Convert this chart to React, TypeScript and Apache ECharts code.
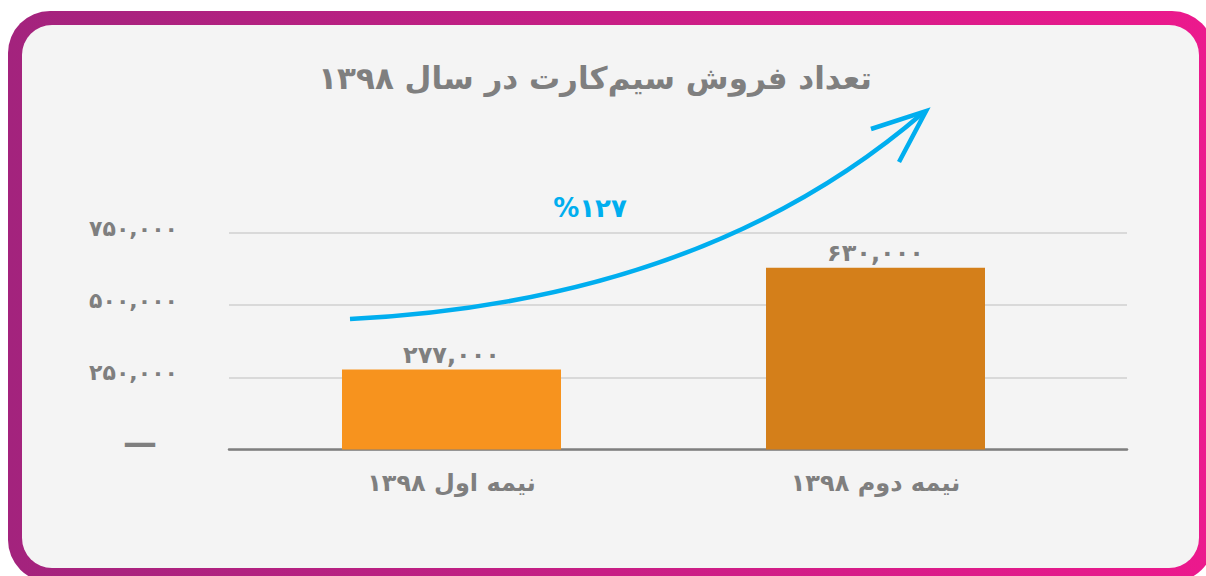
import React, { useEffect, useRef } from "react";
import * as echarts from "echarts";

const categories = ["نیمه اول ۱۳۹۸", "نیمه دوم ۱۳۹۸"];
const sales = [277000, 630000];
const barColors = ["#F7931E", "#D47F1A"];
const titleText = "تعداد فروش سیم‌کارت در سال ۱۳۹۸";
const yMin = 0;
const yMax = 750000;
const yInterval = 250000;

const toFa = (s: string) => s.replace(/\d/g, (d) => "۰۱۲۳۴۵۶۷۸۹"[+d]);
const fmt = (n: number) => toFa(Math.round(n).toLocaleString("en-US"));
const growth = Math.round(((sales[1] - sales[0]) / sales[0]) * 100);
const growthText = "%" + toFa(String(growth));

const FONT = "'DejaVu Sans', sans-serif";
const GRAY = "#7F7F7F";
const BLUE = "#00AEEF";

export default function App() {
  const ref = useRef<HTMLDivElement>(null);
  useEffect(() => {
    if (!ref.current) return;
    const chart = echarts.init(ref.current, null, { renderer: "svg" });
    const option: any = {
      animation: false,
      backgroundColor: "#ffffff",
      grid: [
        { left: 229, right: 79, top: 233, bottom: 126.5 },
        { left: 239.5, right: 118.5, top: 233, bottom: 126.5 },
      ],
      xAxis: [
        {
          type: "category",
          gridIndex: 0,
          data: categories,
          axisLine: { lineStyle: { color: GRAY, width: 2.5 } },
          axisTick: { show: false },
          axisLabel: { show: false },
        },
        {
          type: "category",
          gridIndex: 1,
          data: categories,
          axisLine: { show: false },
          axisTick: { show: false },
          axisLabel: {
            color: GRAY,
            fontSize: 24,
            fontWeight: "bold",
            fontFamily: FONT,
            margin: 21,
          },
        },
      ],
      yAxis: [
        {
          type: "value",
          gridIndex: 0,
          min: yMin,
          max: yMax,
          interval: yInterval,
          splitLine: { lineStyle: { color: "#D9D9D9", width: 2 } },
          axisLine: { show: false },
          axisTick: { show: false },
          axisLabel: {
            margin: 51,
            color: GRAY,
            fontSize: 22,
            fontWeight: "bold",
            fontFamily: FONT,
            padding: [0, 0, 10, 0],
            formatter: (v: number) => (v === 0 ? "{z|—}" : fmt(v)),
            rich: {
              z: { fontSize: 34, color: GRAY, fontFamily: FONT, padding: [0, 21, 6, 0] },
            },
          },
        },
        {
          type: "value",
          gridIndex: 1,
          min: yMin,
          max: yMax,
          interval: yInterval,
          show: false,
          splitLine: { show: false },
        },
      ],
      series: [
        {
          type: "bar",
          xAxisIndex: 1,
          yAxisIndex: 1,
          barWidth: 219,
          data: sales.map((v, i) => ({ value: v, itemStyle: { color: barColors[i] } })),
          label: {
            show: true,
            position: "top",
            distance: 3,
            formatter: (p: any) => fmt(p.value),
            color: GRAY,
            fontSize: 24,
            fontWeight: "bold",
            fontFamily: FONT,
          },
        },
      ],
      graphic: [
        {
          type: "rect",
          z: -20,
          silent: true,
          shape: { x: 8, y: 11, width: 1206, height: 571, r: 42 },
          style: {
            fill: {
              type: "linear",
              x: 0,
              y: 0,
              x2: 1,
              y2: 0,
              colorStops: [
                { offset: 0, color: "#A3237D" },
                { offset: 1, color: "#EC198D" },
              ],
            },
          },
        },
        {
          type: "rect",
          z: -19,
          silent: true,
          shape: { x: 22, y: 25, width: 1177, height: 543, r: 30 },
          style: { fill: "#F4F4F4" },
        },
        {
          type: "text",
          z: 10,
          x: 595,
          y: 78,
          style: {
            text: titleText,
            align: "center",
            verticalAlign: "middle",
            fill: GRAY,
            font: `bold 31px ${FONT}`,
          },
        },
        {
          type: "bezierCurve",
          z: 10,
          shape: { x1: 350, y1: 319, cpx1: 587, cpy1: 307, cpx2: 778, cpy2: 238, x2: 924, y2: 112 },
          style: { stroke: BLUE, lineWidth: 4.5, fill: null },
        },
        {
          type: "polyline",
          z: 10,
          shape: { points: [[871, 129], [926, 111], [899, 162]] },
          style: { stroke: BLUE, lineWidth: 4.5, fill: null, lineJoin: "miter" },
        },
        {
          type: "text",
          z: 10,
          x: 590,
          y: 208,
          style: {
            text: growthText,
            align: "center",
            verticalAlign: "middle",
            fill: BLUE,
            font: `bold 26px ${FONT}`,
          },
        },
      ],
    };
    chart.setOption(option);
    return () => chart.dispose();
  }, []);
  return (
    <div
      ref={ref}
      style={{ position: "fixed", left: 0, top: 0, width: 1206, height: 576 }}
    />
  );
}
